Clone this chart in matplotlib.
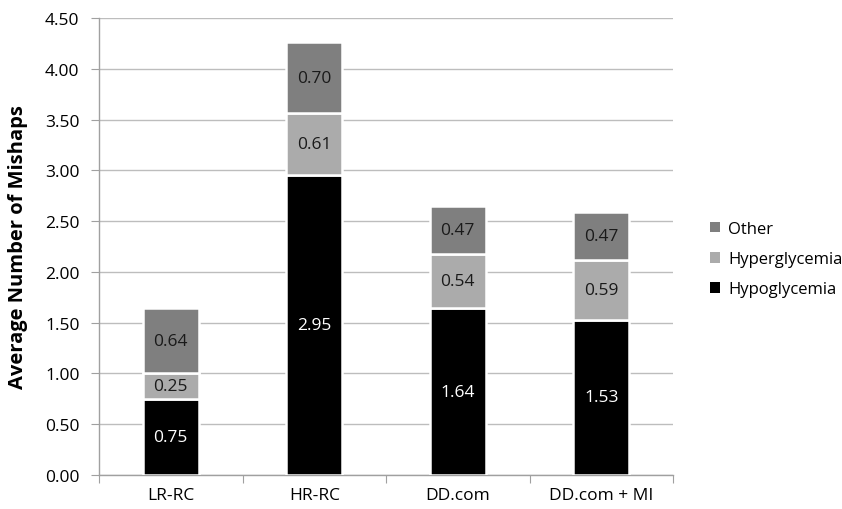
#!/usr/bin/env python3
"""Stacked bars of average mishaps per study arm, split by mishap type."""

import matplotlib
matplotlib.use("Agg")
import matplotlib.pyplot as plt
import numpy as np
from matplotlib.patches import Patch

groups = ["LR-RC", "HR-RC", "DD.com", "DD.com + MI"]
hypoglycemia = [0.75, 2.95, 1.64, 1.53]
hyperglycemia = [0.25, 0.61, 0.54, 0.59]
other = [0.64, 0.70, 0.47, 0.47]

series = [
    ("Hypoglycemia", hypoglycemia, "#000000", "white"),
    ("Hyperglycemia", hyperglycemia, "#ababab", "#1a1a1a"),
    ("Other", other, "#7f7f7f", "#1a1a1a"),
]

plt.rcParams["font.family"] = ["Open Sans", "DejaVu Sans"]

fig = plt.figure(figsize=(8.42, 5.10), dpi=100)
ax = fig.add_axes([0.1176, 0.0667, 0.6817, 0.896])

x = np.arange(len(groups))
bottom = np.zeros(len(groups))
for name, vals, color, txt in series:
    vals = np.array(vals)
    ax.bar(x, vals, width=0.39, bottom=bottom, color=color,
           edgecolor="white", linewidth=1.8, zorder=3)
    for xi, b, v in zip(x, bottom, vals):
        ax.text(xi, b + v / 2, f"{v:.2f}", ha="center", va="center",
                color=txt, fontsize=12.5, zorder=4)
    bottom += vals

ax.set_xlim(-0.5, len(groups) - 0.5)
ax.set_ylim(0, 4.5)
ax.set_yticks(np.arange(0, 4.51, 0.5))
ax.set_yticklabels([f"{v:.2f}" for v in np.arange(0, 4.51, 0.5)], fontsize=12.5)
ax.yaxis.grid(True, color="#bdbdbd", linewidth=1.0, zorder=0)
ax.set_axisbelow(True)

# category boundaries get the tick marks, centres get the labels
ax.set_xticks(np.arange(-0.5, len(groups)))
ax.set_xticklabels([])
ax.set_xticks(x, minor=True)
ax.set_xticklabels(groups, minor=True, fontsize=12.5)
ax.tick_params(axis="x", which="major", length=6, color="#a0a0a0", direction="out")
ax.tick_params(axis="x", which="minor", length=0, pad=9)
ax.tick_params(axis="y", length=6, color="#a0a0a0", pad=8)

for side in ["top", "right"]:
    ax.spines[side].set_visible(False)
for side in ["left", "bottom"]:
    ax.spines[side].set_color("#a0a0a0")
    ax.spines[side].set_linewidth(1.0)

ax.set_ylabel("Average Number of Mishaps", fontsize=14.5, fontweight="bold", labelpad=12)

handles = [Patch(facecolor=c, edgecolor="none", label=n) for n, _, c, _ in reversed(series)]
fig.legend(handles=handles, loc="center left", bbox_to_anchor=(0.825, 0.49),
           frameon=False, fontsize=12, handlelength=0.6, handleheight=0.6,
           handletextpad=0.5, labelspacing=0.85)

fig.savefig("out.png", dpi=100)
